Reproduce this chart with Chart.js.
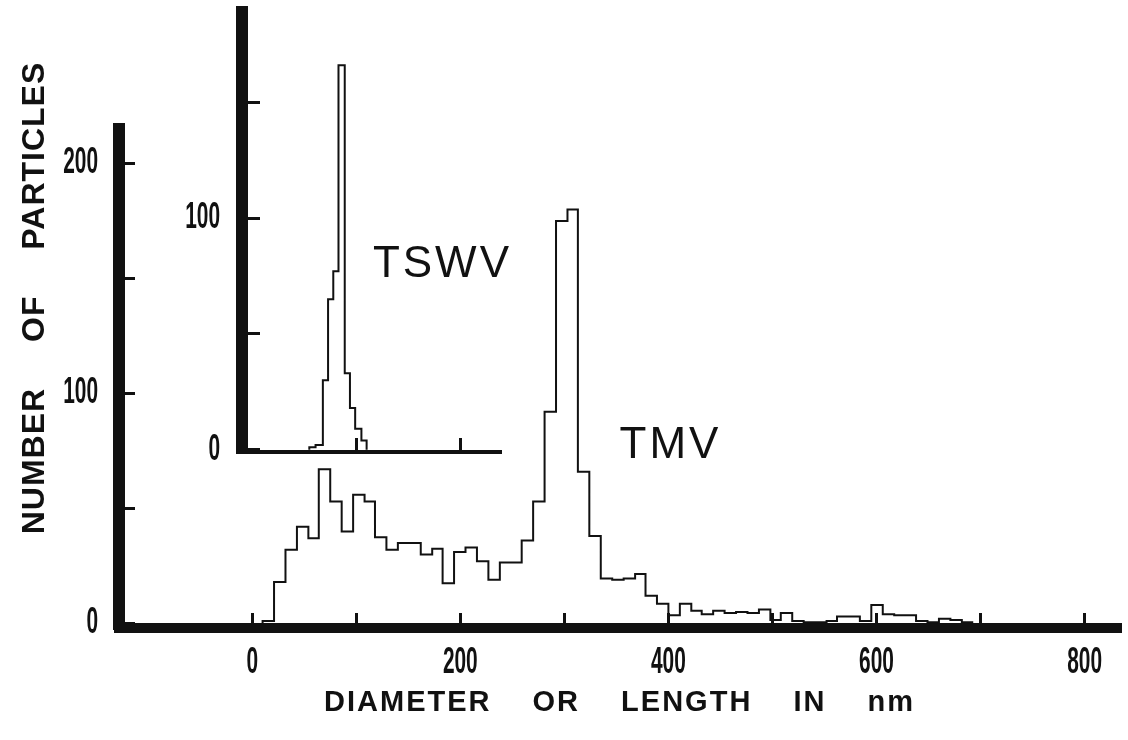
<!DOCTYPE html>
<html><head><meta charset="utf-8">
<script src="https://cdn.jsdelivr.net/npm/chart.js@4.4.1/dist/chart.umd.min.js"></script>
<style>
html,body{margin:0;padding:0;background:#fff;}
#wrap{position:relative;width:1128px;height:740px;overflow:hidden;background:#fff;}
#main,#inset{position:absolute;left:0;top:0;}
</style></head><body>
<div id="wrap"><canvas id="main" width="1128" height="740"></canvas><canvas id="inset" width="520" height="470"></canvas></div>
<script>
// ---- data ----
// TMV histogram: bin left edges (nm) followed by the last right edge
const tmvBinEdges = [10, 21, 32, 43, 54, 64, 75, 86, 97, 108, 118, 129, 140, 151, 162, 173, 183, 194, 205, 216,
  227, 238, 248, 259, 270, 281, 292, 303, 313, 324, 335, 346, 357, 368, 378, 389, 400, 411, 422, 432,
  443, 454, 465, 476, 487, 498, 508, 519, 530, 541, 552, 562, 573, 584, 595, 606, 617, 627, 638, 649,
  660, 671, 682, 692];
const tmvCounts = [1, 18, 32, 42, 37, 67, 53, 40, 56, 53, 37.5, 32, 35, 35, 30, 32.5, 17.5, 31, 33, 27,
  19, 26.5, 26.5, 36, 53, 92, 175, 180, 66, 38, 19.5, 19, 19.5, 21.5, 12, 8.5, 3.5, 8.5, 5.5, 4,
  5.5, 4.5, 5, 4.5, 6, 1.5, 4.5, 1, 0.5, 0.5, 1, 3, 3, 1, 8, 4, 3.5, 3.5, 1, 0.5,
  2, 1.5, 0.5];
// TSWV histogram (inset)
const tswvBinEdges = [55, 61, 68, 73, 78, 83, 89, 94, 99, 105, 110];
const tswvCounts = [1, 2, 30, 65, 77, 166, 33, 18, 9, 4];

const mainXTicks = [0, 100, 200, 300, 400, 500, 600, 700, 800];
const mainXLabels = [0, 200, 400, 600, 800];
const mainYTicks = [0, 50, 100, 150, 200];
const mainYLabels = [0, 100, 200];
const insetXTicks = [100, 200];
const insetYTicks = [0, 50, 100, 150];
const insetYLabels = [0, 100];

const xTitle = 'DIAMETER OR LENGTH IN nm';
const yTitle = 'NUMBER OF PARTICLES';
const tmvName = 'TMV';
const tswvName = 'TSWV';

// ---- helpers ----
const INK = '#111';
const tickFont = { family: "'Liberation Sans', Arial, sans-serif", size: 36, weight: 'bold', lineHeight: 1 };

function stepPoints(edges, counts) {
  const pts = [{ x: edges[0], y: 0 }];
  counts.forEach((c, i) => pts.push({ x: edges[i], y: c }));
  pts.push({ x: edges[edges.length - 1], y: 0 });
  return pts;
}
function fixedSize(prop, size) {
  return (scale) => {
    scale[prop] = size;
    scale.paddingTop = scale.paddingBottom = scale.paddingLeft = scale.paddingRight = 0;
  };
}
function setTicks(list) { return (scale) => { scale.ticks = list.map(v => ({ value: v })); }; }
function labelOnly(list) { return (v) => (list.includes(v) ? String(v) : ''); }

// draws the library's own tick labels horizontally condensed (the figure uses a condensed bold face)
const condensePlugin = {
  id: 'condenseTicks',
  afterLayout(chart) {
    Object.values(chart.scales).forEach(scale => {
      if (scale._condensed) return;
      const orig = scale.drawLabels.bind(scale);
      scale.drawLabels = function (area) {
        const ctx = this.ctx;
        const ft = ctx.fillText;
        ctx.fillText = function (t, x, y) { this.save(); this.translate(x, y); this.scale(0.58, 1); ft.call(this, t, 0, 0); this.restore(); };
        try { orig(area); } finally { delete ctx.fillText; }
      };
      scale._condensed = true;
    });
  }
};

const textPlugin = {
  id: 'figText',
  afterDraw(chart, args, opts) {
    const ctx = chart.ctx;
    (opts.items || []).forEach(it => {
      let x, y;
      if (it.data) { x = chart.scales.x.getPixelForValue(it.data[0]); y = chart.scales.y.getPixelForValue(it.data[1]); }
      else if (it.axisCenter === 'x') { x = (chart.chartArea.left + chart.chartArea.right) / 2; y = it.y; }
      else { x = it.x; y = it.y; }
      ctx.save();
      ctx.font = it.font;
      ctx.fillStyle = INK;
      if ('letterSpacing' in ctx) ctx.letterSpacing = it.letterSpacing || '0px';
      if ('wordSpacing' in ctx) ctx.wordSpacing = it.wordSpacing || '0px';
      ctx.textAlign = it.align || 'center';
      ctx.textBaseline = 'middle';
      ctx.translate(x, y);
      if (it.rotate) ctx.rotate(it.rotate);
      ctx.fillText(it.text, 0, 0);
      ctx.restore();
    });
  }
};

// ---- main chart (TMV) ----
new Chart(document.getElementById('main'), {
  type: 'line',
  data: { datasets: [{ label: tmvName, data: stepPoints(tmvBinEdges, tmvCounts), stepped: true,
    borderColor: INK, borderWidth: 2, pointRadius: 0, fill: false }] },
  options: {
    responsive: false, animation: false, events: [],
    layout: { padding: { left: 0, right: 8, top: 129, bottom: 0 } },
    plugins: {
      legend: { display: false }, tooltip: { enabled: false },
      figText: { items: [
        { text: tmvName, data: [353, 77], align: 'left', font: "44px 'Liberation Sans', Arial, sans-serif", letterSpacing: '3px' },
        { text: xTitle, axisCenter: 'x', y: 703, font: "bold 29px 'Liberation Sans', Arial, sans-serif", letterSpacing: '2px', wordSpacing: '31px' },
        { text: yTitle, x: 35, y: 298, rotate: -Math.PI / 2, font: "bold 32px 'Liberation Sans', Arial, sans-serif", letterSpacing: '1px', wordSpacing: '36px' }
      ] }
    },
    scales: {
      x: { type: 'linear', min: -128, max: 834,
        afterBuildTicks: setTicks(mainXTicks), afterFit: fixedSize('height', 112),
        border: { display: true, color: INK, width: 10 },
        grid: { display: true, drawOnChartArea: false, drawTicks: true, tickLength: -15, tickWidth: 3, tickColor: INK, lineWidth: 3, color: INK },
        ticks: { autoSkip: false, maxRotation: 0, minRotation: 0, padding: 32, color: INK, font: tickFont, callback: labelOnly(mainXLabels) } },
      y: { type: 'linear', min: -2, max: 215,
        afterBuildTicks: setTicks(mainYTicks), afterFit: fixedSize('width', 119),
        border: { display: true, color: INK, width: 12 },
        grid: { display: true, drawOnChartArea: false, drawTicks: true, tickLength: -16, tickWidth: 3, tickColor: INK, lineWidth: 3, color: INK },
        ticks: { autoSkip: false, padding: 37, color: INK, font: tickFont, callback: labelOnly(mainYLabels) } }
    }
  },
  plugins: [condensePlugin, textPlugin]
});

// ---- inset chart (TSWV) ----
new Chart(document.getElementById('inset'), {
  type: 'line',
  data: { datasets: [{ label: tswvName, data: stepPoints(tswvBinEdges, tswvCounts), stepped: true,
    borderColor: INK, borderWidth: 2, pointRadius: 0, fill: false }] },
  options: {
    responsive: false, animation: false, events: [],
    layout: { padding: { left: 0, right: 20, top: 12, bottom: 0 } },
    plugins: {
      legend: { display: false }, tooltip: { enabled: false },
      figText: { items: [
        { text: tswvName, data: [116, 80], align: 'left', font: "44px 'Liberation Sans', Arial, sans-serif", letterSpacing: '3px' }
      ] }
    },
    scales: {
      x: { type: 'linear', min: -9.6, max: 238,
        afterBuildTicks: setTicks(insetXTicks), afterFit: fixedSize('height', 18),
        border: { display: true, color: INK, width: 4 },
        grid: { display: true, drawOnChartArea: false, drawTicks: true, tickLength: -14, tickWidth: 3, tickColor: INK, lineWidth: 3, color: INK },
        ticks: { display: false, autoSkip: false } },
      y: { type: 'linear', min: -1, max: 189,
        afterBuildTicks: setTicks(insetYTicks), afterFit: fixedSize('width', 242),
        border: { display: true, color: INK, width: 12 },
        grid: { display: true, drawOnChartArea: false, drawTicks: true, tickLength: -18, tickWidth: 3, tickColor: INK, lineWidth: 3, color: INK },
        ticks: { autoSkip: false, padding: 40, color: INK, font: tickFont, callback: labelOnly(insetYLabels) } }
    }
  },
  plugins: [condensePlugin, textPlugin]
});
</script>
</body></html>
